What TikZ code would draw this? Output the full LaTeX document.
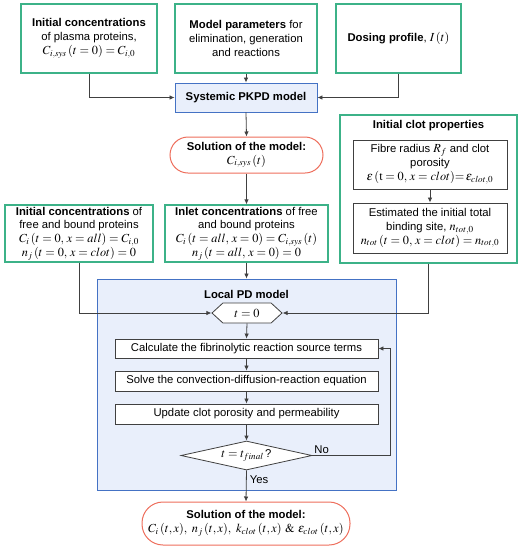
\documentclass[tikz,border=0pt]{standalone}
\usepackage{mathptmx}
\usepackage[no-math]{fontspec}
\setmainfont{Liberation Sans}
\usetikzlibrary{arrows.meta,positioning,shapes.geometric,shapes.symbols}

\definecolor{boxgreen}{RGB}{60,178,136}
\definecolor{pdblue}{RGB}{68,114,196}
\definecolor{pdfill}{RGB}{233,239,251}
\definecolor{solred}{RGB}{238,110,92}
\definecolor{linegray}{RGB}{64,64,64}
\newcommand\eqn[1]{{\fontsize{12.3}{13.8}\selectfont$#1$}}

\begin{document}
\begin{tikzpicture}[x=1pt,y=-1pt,>={Latex[length=5pt,width=4.5pt]},
  every node/.style={font=\fontsize{11.3}{13.8}\selectfont,align=center,inner sep=1pt},
  inbox/.style={draw=boxgreen,line width=1.2pt,fill=white},
  pdbox/.style={draw=pdblue,line width=0.9pt,fill=pdfill},
  solbox/.style={draw=solred,line width=1pt,fill=white,rounded corners=18pt},
  stepbox/.style={draw=linegray,line width=0.9pt,fill=white,minimum width=263pt},
  titletext/.style={font=\fontsize{11.3}{13.8}\selectfont\bfseries},
  flow/.style={->,draw=linegray,line width=0.8pt}]
\useasboundingbox (0,0) rectangle (522,550);

% inputs of the systemic model
\node[inbox,minimum width=136pt,minimum height=69pt] (plasma) at (89,38.5) {\textbf{Initial concentrations}\\of plasma proteins,\\\eqn{C_{i,sys}\,(t=0)=C_{i,0}}};
\node[inbox,minimum width=142pt,minimum height=69pt] (params) at (246,38.5) {\textbf{Model parameters} for\\elimination, generation\\and reactions};
\node[inbox,minimum width=125pt,minimum height=69pt] (dosing) at (398.5,38.5) {\textbf{Dosing profile}, \eqn{I\,(t)}};
\node[pdbox,minimum width=142pt,minimum height=29pt,titletext] (systemic) at (246,97.5) {Systemic PKPD model};
\node[solbox,minimum width=153pt,minimum height=36pt] (solsys) at (246.5,155) {\textbf{Solution of the model:}\\\eqn{C_{i,sys}\,(t)}};

% initial and inlet conditions
\node[inbox,minimum width=148pt,minimum height=57pt] (initfree) at (79,233.5) {\textbf{Initial concentrations} of\\free and bound proteins\\\eqn{C_i\,(t=0,\,x=all)=C_{i,0}}\\\eqn{n_j\,(t=0,\,x=clot)=0}};
\node[inbox,minimum width=163pt,minimum height=57pt] (inlet) at (246.5,233.5) {\textbf{Inlet concentrations} of free\\and bound proteins\\\eqn{C_i\,(t=all,\,x=0)=C_{i,sys}\,(t)}\\\eqn{n_j\,(t=all,\,x=0)=0}};

% clot properties
\node[inbox,minimum width=177pt,minimum height=148pt] (clot) at (428.5,189) {};
\node[titletext] (clottitle) at (428.5,126) {Initial clot properties};
\node[draw=linegray,line width=0.9pt,minimum width=154pt,minimum height=49pt] (fibre) at (430,164.5) {Fibre radius \eqn{R_f} and clot\\porosity\\\eqn{\varepsilon\,(\mathrm{t}=0,\,x=clot){=}\,\varepsilon_{clot,0}}};
\node[draw=linegray,line width=0.9pt,minimum width=154pt,minimum height=50pt] (binding) at (430,228) {Estimated the initial total\\binding site, \eqn{n_{tot,0}}\\\eqn{n_{tot}\,(t=0,\,x=clot)=n_{tot,0}}};

% local PD model
\node[pdbox,minimum width=299pt,minimum height=211pt] (local) at (246.5,384.5) {};
\node[titletext] (localtitle) at (246.5,294) {Local PD model};
\node[signal,signal to=east and west,signal pointer angle=85,draw=linegray,line width=0.8pt,fill=white,minimum width=70pt,minimum height=20pt] (tzero) at (247,313) {\eqn{t=0}};
\node[stepbox,minimum height=19pt] (source) at (246.5,348.5) {Calculate the fibrinolytic reaction source terms};
\node[stepbox,minimum height=20pt] (cdr) at (246.5,381) {Solve the convection-diffusion-reaction equation};
\node[stepbox,minimum height=20pt] (porosity) at (246.5,414) {Update clot porosity and permeability};
\node[diamond,aspect=4.5,draw=linegray,line width=0.8pt,fill=white,minimum width=131pt,minimum height=29pt,inner sep=0pt] (tfinal) at (246.5,455.5) {\eqn{t=t_{final}\,}?};
\coordinate (loop) at (390,455.5);

\node[solbox,minimum width=208pt,minimum height=43pt,rounded corners=21pt] (solloc) at (246,523.5) {\textbf{Solution of the model:}\\\eqn{C_i\,(t,x),\ n_j\,(t,x),\ k_{clot}\,(t,x)\ \&\ \varepsilon_{clot}\,(t,x)}};

% connectors
\draw[flow] (plasma.south) |- (systemic.west);
\draw[flow] (params.south) -- (systemic.north);
\draw[flow] (dosing.south) |- (systemic.east);
\draw[flow] (systemic.south) -- (solsys.north);
\draw[flow] (solsys.south) -- (inlet.north);
\draw[flow] (fibre.south) -- (binding.north);
\draw[flow] (inlet.south) -- (local.north);
\draw[flow] (initfree.south) |- (tzero.west);
\draw[flow] (clot.south) |- (tzero.east);
\draw[flow] (tzero.south) -- (source.north);
\draw[flow] (source.south) -- (cdr.north);
\draw[flow] (cdr.south) -- (porosity.north);
\draw[flow] (porosity.south) -- (tfinal.north);
\draw[flow] (tfinal.east) -- node[pos=0.12,above] {No} (loop) |- (source.east);
\draw[flow] (tfinal.south) -- node[pos=0.3,right=2pt] {Yes} (solloc.north);
\end{tikzpicture}
\end{document}
